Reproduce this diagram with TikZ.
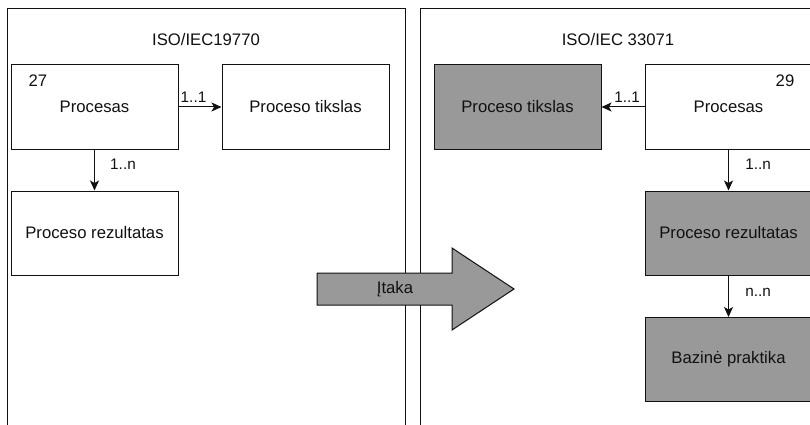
\documentclass[tikz,border=0pt]{standalone}
\usepackage{fontspec}
\setmainfont{Liberation Sans}
\usetikzlibrary{arrows.meta}
\definecolor{boxgray}{HTML}{999999}
\definecolor{ink}{HTML}{111111}
\tikzset{
  frame/.style={draw=ink, line width=1pt},
  box/.style={draw=ink, line width=1pt, rectangle, minimum width=167pt, minimum height=84pt,
    inner sep=0pt, text=ink, font=\fontsize{16.7}{20}\selectfont},
  whitebox/.style={box, fill=white},
  graybox/.style={box, fill=boxgray},
  title/.style={text=ink, font=\fontsize{16.7}{20}\selectfont, inner sep=0pt},
  mult/.style={text=ink, font=\fontsize{15.3}{18}\selectfont, inner sep=0pt},
  conn/.style={draw=ink, line width=1pt, -{Stealth[length=10pt, width=9pt, inset=2.5pt]}},
}
\begin{document}
\begin{tikzpicture}[x=1pt, y=-1pt]
\useasboundingbox (0,0) rectangle (810,425);
\clip (0,0) rectangle (810,425);
\fill[white] (0,0) rectangle (810,425);

% the two standard frames
\draw[frame] (7,9) rectangle (405,440);
\draw[frame] (420,9) rectangle (840,440);
\node[title] (t1) at (206,40) {ISO/IEC19770};
\node[title] (t2) at (618,40) {ISO/IEC 33071};

% ISO/IEC 19770 side
\node[whitebox] (lp) at (94.5,107) {Procesas};
\node[title] (n27) at (38,81) {27};
\node[whitebox] (lt) at (305.5,107) {Proceso tikslas};
\node[whitebox] (lr) at (94.5,233) {Proceso rezultatas};
\draw[conn] (lp.east) -- (lt.west);
\draw[conn] (lp.south) -- (lr.north);
\node[mult] (m1) at (193.5,97) {1..1};
\node[mult] (m2) at (123,164) {1..n};

% ISO/IEC 33071 side
\node[graybox] (rt) at (517.5,107) {Proceso tikslas};
\node[whitebox] (rp) at (728.5,107) {Procesas};
\node[title] (n29) at (785,81) {29};
\node[graybox] (rr) at (728.5,233) {Proceso rezultatas};
\node[graybox] (rb) at (728.5,359.5) {Bazinė praktika};
\draw[conn] (rp.west) -- (rt.east);
\draw[conn] (rp.south) -- (rr.north);
\draw[conn] (rr.south) -- (rb.north);
\node[mult] (m3) at (627,97) {1..1};
\node[mult] (m4) at (758,164) {1..n};
\node[mult] (m5) at (758,292) {n..n};

% influence arrow across the gap
\draw[draw=ink, line width=1pt, fill=boxgray, line join=miter]
  (317,273) -- (452,273) -- (452,248) -- (514,289) -- (452,330) -- (452,305) -- (317,305) -- cycle;
\node[title] (inf) at (395,289) {Įtaka};
\end{tikzpicture}
\end{document}
